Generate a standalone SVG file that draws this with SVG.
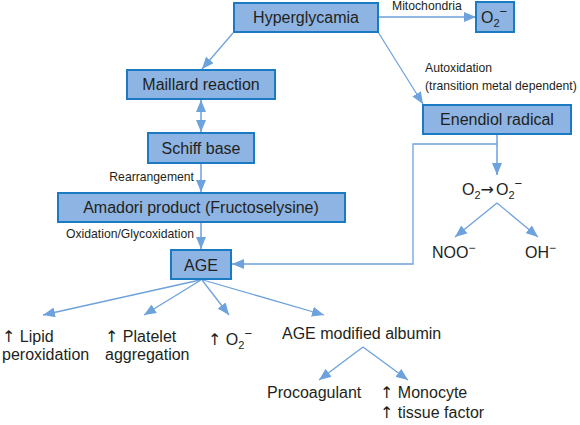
<svg xmlns="http://www.w3.org/2000/svg" width="580" height="425" viewBox="0 0 580 425">
<style>
.box{fill:#8db4e2;stroke:#1b7bc2;stroke-width:2}
.bt{font-family:"Liberation Sans",Arial,sans-serif;font-size:16px;fill:#231f20;text-anchor:middle}
.t{font-family:"Liberation Sans",Arial,sans-serif;font-size:16px;fill:#231f20}
.s{font-family:"Liberation Sans",Arial,sans-serif;font-size:12.2px;fill:#231f20}
.ar{font-family:"DejaVu Sans",sans-serif;fill:#231f20}
.c{fill:none;stroke:#6ea2dc;stroke-width:1.3}
.v{fill:none;stroke:#8fb8e6;stroke-width:2}
</style>
<defs>
<marker id="ah" viewBox="0 0 12 10" refX="12" refY="5" markerWidth="12" markerHeight="10" markerUnits="userSpaceOnUse" orient="auto-start-reverse">
<path d="M0,0 L12,5 L0,10 Z" fill="#6ea2dc"/>
</marker>
</defs>
<g id="connectors">
<line class="c" x1="378" y1="17" x2="476" y2="17" marker-end="url(#ah)"/>
<line class="c" x1="233" y1="33" x2="202" y2="69" marker-end="url(#ah)"/>
<line class="c" x1="378" y1="32" x2="423" y2="104" marker-end="url(#ah)"/>
<line class="v" x1="201" y1="100" x2="201" y2="132" marker-start="url(#ah)" marker-end="url(#ah)"/>
<line class="v" x1="201" y1="164" x2="201" y2="192" marker-end="url(#ah)"/>
<line class="v" x1="201" y1="223" x2="201" y2="249" marker-end="url(#ah)"/>
<line class="v" x1="497" y1="135" x2="497" y2="175" marker-end="url(#ah)"/>
<polyline class="c" points="497,144 413,144 413,264 232,264" marker-end="url(#ah)"/>
<line class="c" x1="497" y1="203" x2="455" y2="237" marker-end="url(#ah)"/>
<line class="c" x1="497" y1="203" x2="538" y2="237" marker-end="url(#ah)"/>
<line class="c" x1="200" y1="280" x2="43" y2="315" marker-end="url(#ah)"/>
<line class="c" x1="201" y1="280" x2="144" y2="315" marker-end="url(#ah)"/>
<line class="c" x1="202" y1="280" x2="229" y2="315" marker-end="url(#ah)"/>
<line class="c" x1="203" y1="280" x2="324" y2="315" marker-end="url(#ah)"/>
<line class="c" x1="363" y1="347" x2="319" y2="380" marker-end="url(#ah)"/>
<line class="c" x1="363" y1="347" x2="408" y2="380" marker-end="url(#ah)"/>
</g>
<g id="hyperglycamia">
<rect class="box" x="234" y="3" width="144" height="29"/>
<text class="bt" x="306" y="23">Hyperglycamia</text>
</g>
<g id="o2-mito">
<rect class="box" x="476" y="2" width="38" height="30"/>
<text class="t" x="481" y="23">O<tspan font-size="11" dy="4">2</tspan><tspan font-size="13" dy="-11">−</tspan></text>
</g>
<g id="maillard">
<rect class="box" x="127" y="70" width="148" height="29"/>
<text class="bt" x="201" y="90">Maillard reaction</text>
</g>
<g id="schiff">
<rect class="box" x="148" y="133" width="106" height="30"/>
<text class="bt" x="201" y="154">Schiff base</text>
</g>
<g id="amadori">
<rect class="box" x="58" y="193" width="287" height="29"/>
<text class="bt" x="201" y="213">Amadori product (Fructoselysine)</text>
</g>
<g id="age">
<rect class="box" x="171" y="250" width="60" height="29"/>
<text class="bt" x="201" y="271">AGE</text>
</g>
<g id="enendiol">
<rect class="box" x="423" y="105" width="148" height="29"/>
<text class="bt" x="497" y="125">Enendiol radical</text>
</g>
<g id="labels">
<text class="s" x="392" y="10">Mitochondria</text>
<text class="s" x="425" y="72">Autoxidation</text>
<text class="s" x="425" y="90">(transition metal dependent)</text>
<text class="s" x="194" y="181" text-anchor="end">Rearrangement</text>
<text class="s" x="194" y="238" text-anchor="end">Oxidation/Glycoxidation</text>
</g>
<g id="o2-o2">
<text class="t" x="462" y="195">O<tspan font-size="11" dy="4">2</tspan><tspan class="ar" dy="-4">→</tspan><tspan dx="2">O</tspan><tspan font-size="11" dy="4">2</tspan><tspan font-size="13" dy="-11">−</tspan></text>
</g>
<g id="noo">
<text class="t" x="432" y="258">NOO<tspan font-size="12" dy="-6">−</tspan></text>
</g>
<g id="oh">
<text class="t" x="525" y="258">OH<tspan font-size="12" dy="-6">−</tspan></text>
</g>
<g id="lipid">
<text class="t" x="2" y="342"><tspan class="ar">↑</tspan> Lipid</text>
<text class="t" x="2" y="360">peroxidation</text>
</g>
<g id="platelet">
<text class="t" x="105" y="342"><tspan class="ar">↑</tspan> Platelet</text>
<text class="t" x="105" y="360">aggregation</text>
</g>
<g id="o2-age">
<text class="t" x="208" y="345"><tspan class="ar">↑</tspan> O<tspan font-size="11" dy="4">2</tspan><tspan font-size="13" dy="-11">−</tspan></text>
</g>
<g id="albumin">
<text class="t" x="282" y="339">AGE modified albumin</text>
</g>
<g id="procoagulant">
<text class="t" x="267" y="398">Procoagulant</text>
</g>
<g id="monocyte">
<text class="t" x="380" y="398"><tspan class="ar">↑</tspan> Monocyte</text>
<text class="t" x="380" y="418"><tspan class="ar">↑</tspan> tissue factor</text>
</g>
</svg>
